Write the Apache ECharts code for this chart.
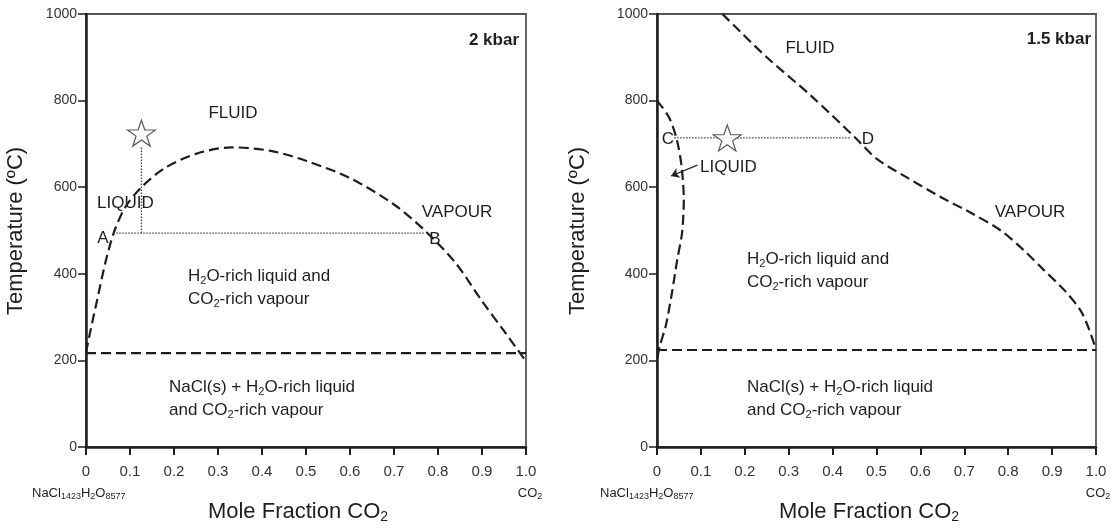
<!DOCTYPE html>
<html>
<head>
<meta charset="utf-8">
<script src="https://cdn.jsdelivr.net/npm/echarts@6/dist/echarts.min.js"></script>
<style>
html,body{margin:0;padding:0;background:#fff;}
#c{width:1120px;height:529px;}
</style>
</head>
<body>
<div id="c"></div>
<script>
// ---- tick labels ----
const xTickLabels = ['0','0.1','0.2','0.3','0.4','0.5','0.6','0.7','0.8','0.9','1.0'];
const yTickLabels = ['0','200','400','600','800','1000'];

// ---- 2 kbar panel (mole fraction CO2, temperature °C) ----
const solvus2kbar = [[0,218],[0.01,268],[0.025,338],[0.045,430],[0.065,500],[0.09,555],[0.126,600],[0.18,645],[0.25,677],[0.33,692],[0.42,684],[0.5,661],[0.6,621],[0.7,560],[0.77,500],[0.84,425],[0.9,337],[0.95,268],[1.0,198]];
const halite2kbar = [[0,217],[1.0,217]];
const tieAB = [[0.062,494],[0.77,494]];
const isochore2kbar = [[0.126,494],[0.126,693]];
const star2kbar = [[0.126,725]];

// ---- 1.5 kbar panel ----
const liquid15kbar = [[0,800],[0.027,762],[0.045,710],[0.056,648],[0.061,570],[0.057,494],[0.046,432],[0.034,356],[0.02,280],[0.006,232],[0,200]];
const vapour15kbar = [[0.149,1000],[0.25,900],[0.35,812],[0.45,716],[0.5,666],[0.57,622],[0.645,578],[0.72,538],[0.783,500],[0.835,455],[0.88,410],[0.93,360],[0.965,315],[0.985,270],[1.0,224]];
const halite15kbar = [[0,224],[1.0,224]];
const tieCD = [[0.039,714],[0.44,714]];
const liquidArrow = [[0.092,651],[0.032,626]];
const star15kbar = [[0.16,714]];

const FONT = 'Liberation Sans, Arial, sans-serif';
const INK = '#1e1e1e';
const dashStyle = {type:[10,5], width:2.2, color:INK};
const dotStyle = {type:[1.5,1.5], width:1.3, color:'#444'};
const starPath = 'path://M50,0 L61.8,35.1 L98.9,35.1 L68.9,56.9 L80.3,92.1 L50,70.3 L19.7,92.1 L31.1,56.9 L1.1,35.1 L38.2,35.1 Z';

function xAxisDef(i){
  return {
    gridIndex:i, type:'value', min:0, max:1, interval:0.1,
    axisLine:{show:true, onZero:false, lineStyle:{color:INK, width:2.5}},
    axisTick:{show:true, inside:false, length:8, lineStyle:{color:INK, width:2}},
    axisLabel:{margin:17, fontSize:15, color:'#333', fontFamily:FONT,
      formatter:v=>xTickLabels[Math.round(v*10)]},
    splitLine:{show:false}
  };
}
function yAxisDef(i){
  return {
    gridIndex:i, type:'value', min:0, max:1000, interval:200,
    axisLine:{show:true, onZero:false, lineStyle:{color:INK, width:2.5}},
    axisTick:{show:true, inside:false, length:8, lineStyle:{color:INK, width:1.5}},
    axisLabel:{margin:9, fontSize:14, color:'#333', fontFamily:FONT,
      formatter:v=>yTickLabels[Math.round(v/200)]},
    splitLine:{show:false}
  };
}
function lineSeries(i, data, style, smooth){
  return {type:'line', xAxisIndex:i, yAxisIndex:i, data:data, showSymbol:false, symbol:'none',
    smooth:smooth||false, lineStyle:style, silent:true, z:3};
}
function starSeries(i, data){
  return {type:'scatter', xAxisIndex:i, yAxisIndex:i, data:data, symbol:starPath, symbolSize:[28,26],
    itemStyle:{color:'#fff', borderColor:'#333', borderWidth:1.2}, silent:true, z:5};
}

const rich = {
  n:{fontSize:17, lineHeight:20, fontFamily:FONT, color:INK},
  s:{fontSize:11, lineHeight:9, verticalAlign:'bottom', fontFamily:FONT, color:INK},
  b:{fontSize:17, lineHeight:20, fontFamily:FONT, color:INK, fontWeight:'bold'},
  t:{fontSize:22, lineHeight:25, fontFamily:FONT, color:INK},
  ts:{fontSize:14, lineHeight:11, verticalAlign:'bottom', fontFamily:FONT, color:INK},
  c:{fontSize:13, lineHeight:16, fontFamily:FONT, color:'#444'},
  cs:{fontSize:9, lineHeight:7, verticalAlign:'bottom', fontFamily:FONT, color:'#444'}
};
function txt(x, y, text, align, rot){
  return {type:'text', x:x, y:y, rotation:rot||0, silent:true, z:10,
    style:{text:text, rich:rich, align:align||'left', verticalAlign:'middle', fontFamily:FONT, fontSize:17, fill:INK}};
}

const chart = echarts.init(document.getElementById('c'), null, {renderer:'canvas'});
chart.setOption({
  animation:false,
  backgroundColor:'#fff',
  grid:[
    {left:86, top:14, width:440, height:433, show:true, borderColor:'#555', borderWidth:1.8, backgroundColor:'transparent'},
    {left:657, top:14, width:439, height:433, show:true, borderColor:'#555', borderWidth:1.8, backgroundColor:'transparent'}
  ],
  xAxis:[xAxisDef(0), xAxisDef(1)],
  yAxis:[yAxisDef(0), yAxisDef(1)],
  series:[
    lineSeries(0, solvus2kbar, dashStyle, 0.3),
    lineSeries(0, halite2kbar, dashStyle),
    lineSeries(0, tieAB, dotStyle),
    lineSeries(0, isochore2kbar, dotStyle),
    starSeries(0, star2kbar),
    lineSeries(1, liquid15kbar, dashStyle, 0.3),
    lineSeries(1, vapour15kbar, dashStyle, 0.3),
    lineSeries(1, halite15kbar, dashStyle),
    lineSeries(1, tieCD, dotStyle),
    {type:'lines', coordinateSystem:'cartesian2d', xAxisIndex:1, yAxisIndex:1,
      data:[{coords:liquidArrow}], symbol:['none','arrow'], symbolSize:8,
      lineStyle:{color:INK, width:1.2, opacity:1}, silent:true, z:4},
    starSeries(1, star15kbar)
  ],
  graphic:[
    // axis titles
    txt(16, 231, '{t|Temperature (ºC)}', 'center', Math.PI/2),
    txt(578, 231, '{t|Temperature (ºC)}', 'center', Math.PI/2),
    txt(298, 512, '{t|Mole Fraction CO}{ts|2}', 'center'),
    txt(869, 512, '{t|Mole Fraction CO}{ts|2}', 'center'),
    // end-member labels
    txt(32, 493, '{c|NaCl}{cs|1423}{c|H}{cs|2}{c|O}{cs|8577}', 'left'),
    txt(600, 493, '{c|NaCl}{cs|1423}{c|H}{cs|2}{c|O}{cs|8577}', 'left'),
    txt(530, 493, '{c|CO}{cs|2}', 'center'),
    txt(1098, 493, '{c|CO}{cs|2}', 'center'),
    // 2 kbar labels
    txt(519, 40, '{b|2 kbar}', 'right'),
    txt(233, 113, '{n|FLUID}', 'center'),
    txt(97, 203, '{n|LIQUID}', 'left'),
    txt(457, 212, '{n|VAPOUR}', 'center'),
    txt(103, 238, '{n|A}', 'center'),
    txt(435, 239, '{n|B}', 'center'),
    txt(188, 276, '{n|H}{s|2}{n|O-rich liquid and}', 'left'),
    txt(188, 299, '{n|CO}{s|2}{n|-rich vapour}', 'left'),
    txt(169, 387, '{n|NaCl(s) + H}{s|2}{n|O-rich liquid}', 'left'),
    txt(169, 410, '{n|and CO}{s|2}{n|-rich vapour}', 'left'),
    // 1.5 kbar labels
    txt(1091, 39, '{b|1.5 kbar}', 'right'),
    txt(810, 48, '{n|FLUID}', 'center'),
    txt(700, 167, '{n|LIQUID}', 'left'),
    txt(668, 139, '{n|C}', 'center'),
    txt(868, 139, '{n|D}', 'center'),
    txt(1030, 212, '{n|VAPOUR}', 'center'),
    txt(747, 259, '{n|H}{s|2}{n|O-rich liquid and}', 'left'),
    txt(747, 282, '{n|CO}{s|2}{n|-rich vapour}', 'left'),
    txt(747, 387, '{n|NaCl(s) + H}{s|2}{n|O-rich liquid}', 'left'),
    txt(747, 410, '{n|and CO}{s|2}{n|-rich vapour}', 'left')
  ]
});
</script>
</body>
</html>
